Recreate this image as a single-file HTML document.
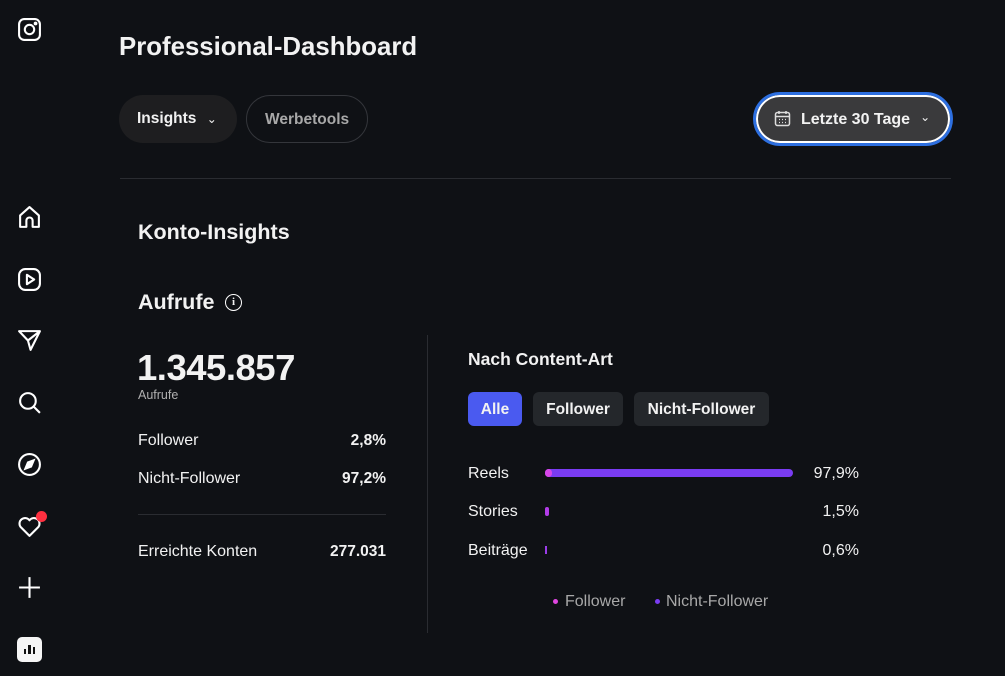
<!DOCTYPE html>
<html><head><meta charset="utf-8"><style>
*{margin:0;padding:0;box-sizing:border-box}
body{width:1005px;height:676px;background:#0f1115;font-family:"Liberation Sans",Arial,sans-serif;color:#f2f2f2;position:relative;overflow:hidden}
.a{position:absolute;white-space:nowrap}
.b{font-weight:bold}
.ic{position:absolute;left:17px;width:25px;height:25px}
</style></head><body>
<svg class="ic" style="top:17px" viewBox="0 0 24 24" fill="none" stroke="#fff" stroke-width="2"><rect x="2" y="2" width="20" height="20" rx="5"/><circle cx="12" cy="12" r="4.5"/><circle cx="17.8" cy="6.2" r="0.8" fill="#fff"/></svg>
<svg class="ic" style="top:205px" viewBox="0 0 24 24" fill="none" stroke="#fff" stroke-width="2"><path d="M3 21V10l9-8 9 8v11h-6v-6a3 3 0 0 0-6 0v6z" stroke-linejoin="round"/></svg>
<svg class="ic" style="top:267px" viewBox="0 0 24 24" fill="none" stroke="#fff" stroke-width="2"><rect x="2" y="2" width="20" height="20" rx="6"/><path d="M9.5 7.5v9l7-4.5z" stroke-linejoin="round"/></svg>
<svg class="ic" style="top:328px" viewBox="0 0 24 24" fill="none" stroke="#fff" stroke-width="2"><path d="M2 3h20L13 21 10.5 12z M10.5 12 22 3" stroke-linejoin="round"/></svg>
<svg class="ic" style="top:390px" viewBox="0 0 24 24" fill="none" stroke="#fff" stroke-width="2"><circle cx="10.5" cy="10.5" r="7.5"/><path d="M16 16l6 6"/></svg>
<svg class="ic" style="top:452px" viewBox="0 0 24 24" fill="none" stroke="#fff" stroke-width="2"><circle cx="12" cy="12" r="10"/><path d="M16 8l-2.5 6L8 16l2.5-6z" fill="#fff"/></svg>
<svg class="ic" style="top:514px" viewBox="0 0 24 24" fill="none" stroke="#fff" stroke-width="2"><path d="M12 21 3.5 12.5A5 5 0 0 1 12 6a5 5 0 0 1 8.5 6.5z" stroke-linejoin="round"/></svg>
<div class="a" style="left:36px;top:511px;width:11px;height:11px;border-radius:50%;background:#ff3040"></div>
<svg class="ic" style="top:575px" viewBox="0 0 24 24" fill="none" stroke="#fff" stroke-width="2"><path d="M12 2v20M2 12h20"/></svg>
<div class="a" style="left:17px;top:637px;width:25px;height:25px;background:#f5f5f5;border-radius:5px"><div class="a" style="left:7px;top:12px;width:2px;height:5px;background:#111"></div><div class="a" style="left:11px;top:8px;width:2.5px;height:9px;background:#111"></div><div class="a" style="left:15.5px;top:10px;width:2px;height:7px;background:#111"></div></div>

<div class="a b" style="left:119px;top:33px;font-size:25.8px">Professional-Dashboard</div>
<div class="a b" style="left:119px;top:95px;width:118px;height:48px;border-radius:24px;background:#1e1e20;font-size:15.5px;padding:15px 0 0 18px">Insights <span style="font-weight:normal;font-size:12px;margin-left:6px">&#8964;</span></div>
<div class="a b" style="left:246px;top:95px;width:122px;height:48px;border-radius:24px;border:1px solid #34363b;font-size:15.5px;color:#a8a8a8;padding:15px 0 0 18px">Werbetools</div>
<div class="a b" style="left:753px;top:92px;width:200px;height:54px;border-radius:27px;border:3px solid #2d6fe0;box-shadow:inset 0 0 0 2px #fff;background:#3a3a3c;font-size:16px;padding:16px 0 0 45px">Letzte 30 Tage<span style="font-weight:normal;font-size:12px;margin-left:10px;position:relative;top:-3px">&#8964;</span></div>
<svg class="a" style="left:774px;top:110px" width="17" height="17" viewBox="0 0 17 17" fill="none" stroke="#ddd" stroke-width="1.5"><rect x="1.5" y="2.5" width="14" height="13" rx="2"/><path d="M1.5 6.5h14M5 1v3M12 1v3"/><path d="M5 9.5h1M8 9.5h1M11 9.5h1M5 12.5h1M8 12.5h1M11 12.5h1" stroke-width="1.3"/></svg>
<div class="a" style="left:120px;top:178px;width:831px;height:1px;background:#2a2c31"></div>

<div class="a b" style="left:138px;top:220px;font-size:21.5px">Konto-Insights</div>
<div class="a b" style="left:138px;top:290px;font-size:21.5px">Aufrufe</div>
<div class="a" style="left:225px;top:294px;width:17px;height:17px;border:1.5px solid #fff;border-radius:50%;font-size:11px;text-align:center;line-height:14px;font-family:'Liberation Serif',serif;font-weight:bold">i</div>
<div class="a b" style="left:137px;top:347px;font-size:36.5px;letter-spacing:-0.5px">1.345.857</div>
<div class="a" style="left:138px;top:388px;font-size:12.5px;color:#b0b0b0">Aufrufe</div>
<div class="a" style="left:138px;top:432px;font-size:16px">Follower</div>
<div class="a" style="left:138px;top:470px;font-size:16px">Nicht-Follower</div>
<div class="a" style="left:138px;top:543px;font-size:16px">Erreichte Konten</div>
<div class="a b" style="right:619px;top:432px;font-size:15.5px">2,8%</div>
<div class="a b" style="right:619px;top:470px;font-size:15.5px">97,2%</div>
<div class="a b" style="right:619px;top:543px;font-size:15.5px">277.031</div>
<div class="a" style="left:138px;top:514px;width:248px;height:1px;background:#2a2c31"></div>
<div class="a" style="left:427px;top:335px;width:1px;height:298px;background:#2a2c31"></div>

<div class="a b" style="left:468px;top:349px;font-size:17.5px">Nach Content-Art</div>
<div class="a b" style="left:468px;top:392px;width:54px;height:34px;border-radius:6px;background:#4a5af0;font-size:15.5px;text-align:center;line-height:35px">Alle</div>
<div class="a b" style="left:533px;top:392px;width:90px;height:34px;border-radius:6px;background:#24272b;font-size:15.5px;text-align:center;line-height:35px">Follower</div>
<div class="a b" style="left:634px;top:392px;width:135px;height:34px;border-radius:6px;background:#24272b;font-size:15.5px;text-align:center;line-height:35px">Nicht-Follower</div>

<div class="a" style="left:468px;top:465px;font-size:16px">Reels</div>
<div class="a" style="left:468px;top:503px;font-size:16px">Stories</div>
<div class="a" style="left:468px;top:542px;font-size:16px">Beiträge</div>
<div class="a" style="left:545px;top:469px;width:248px;height:8px;border-radius:4px;background:#7a3cf2"></div>
<div class="a" style="left:545px;top:469px;width:7px;height:8px;border-radius:4px;background:#d646e8"></div>
<div class="a" style="left:545px;top:507px;width:4px;height:9px;border-radius:2px;background:#b23ce8"></div>
<div class="a" style="left:545px;top:546px;width:2px;height:8px;background:#9a3ce8"></div>
<div class="a" style="right:146px;top:465px;font-size:16px">97,9%</div>
<div class="a" style="right:146px;top:503px;font-size:16px">1,5%</div>
<div class="a" style="right:146px;top:542px;font-size:16px">0,6%</div>

<div class="a" style="left:553px;top:599px;width:5px;height:5px;border-radius:50%;background:#e046e0"></div>
<div class="a" style="left:565px;top:593px;font-size:16px;color:#a8a8a8">Follower</div>
<div class="a" style="left:655px;top:599px;width:5px;height:5px;border-radius:50%;background:#7a3cf2"></div>
<div class="a" style="left:666px;top:593px;font-size:16px;color:#a8a8a8">Nicht-Follower</div>
</body></html>
